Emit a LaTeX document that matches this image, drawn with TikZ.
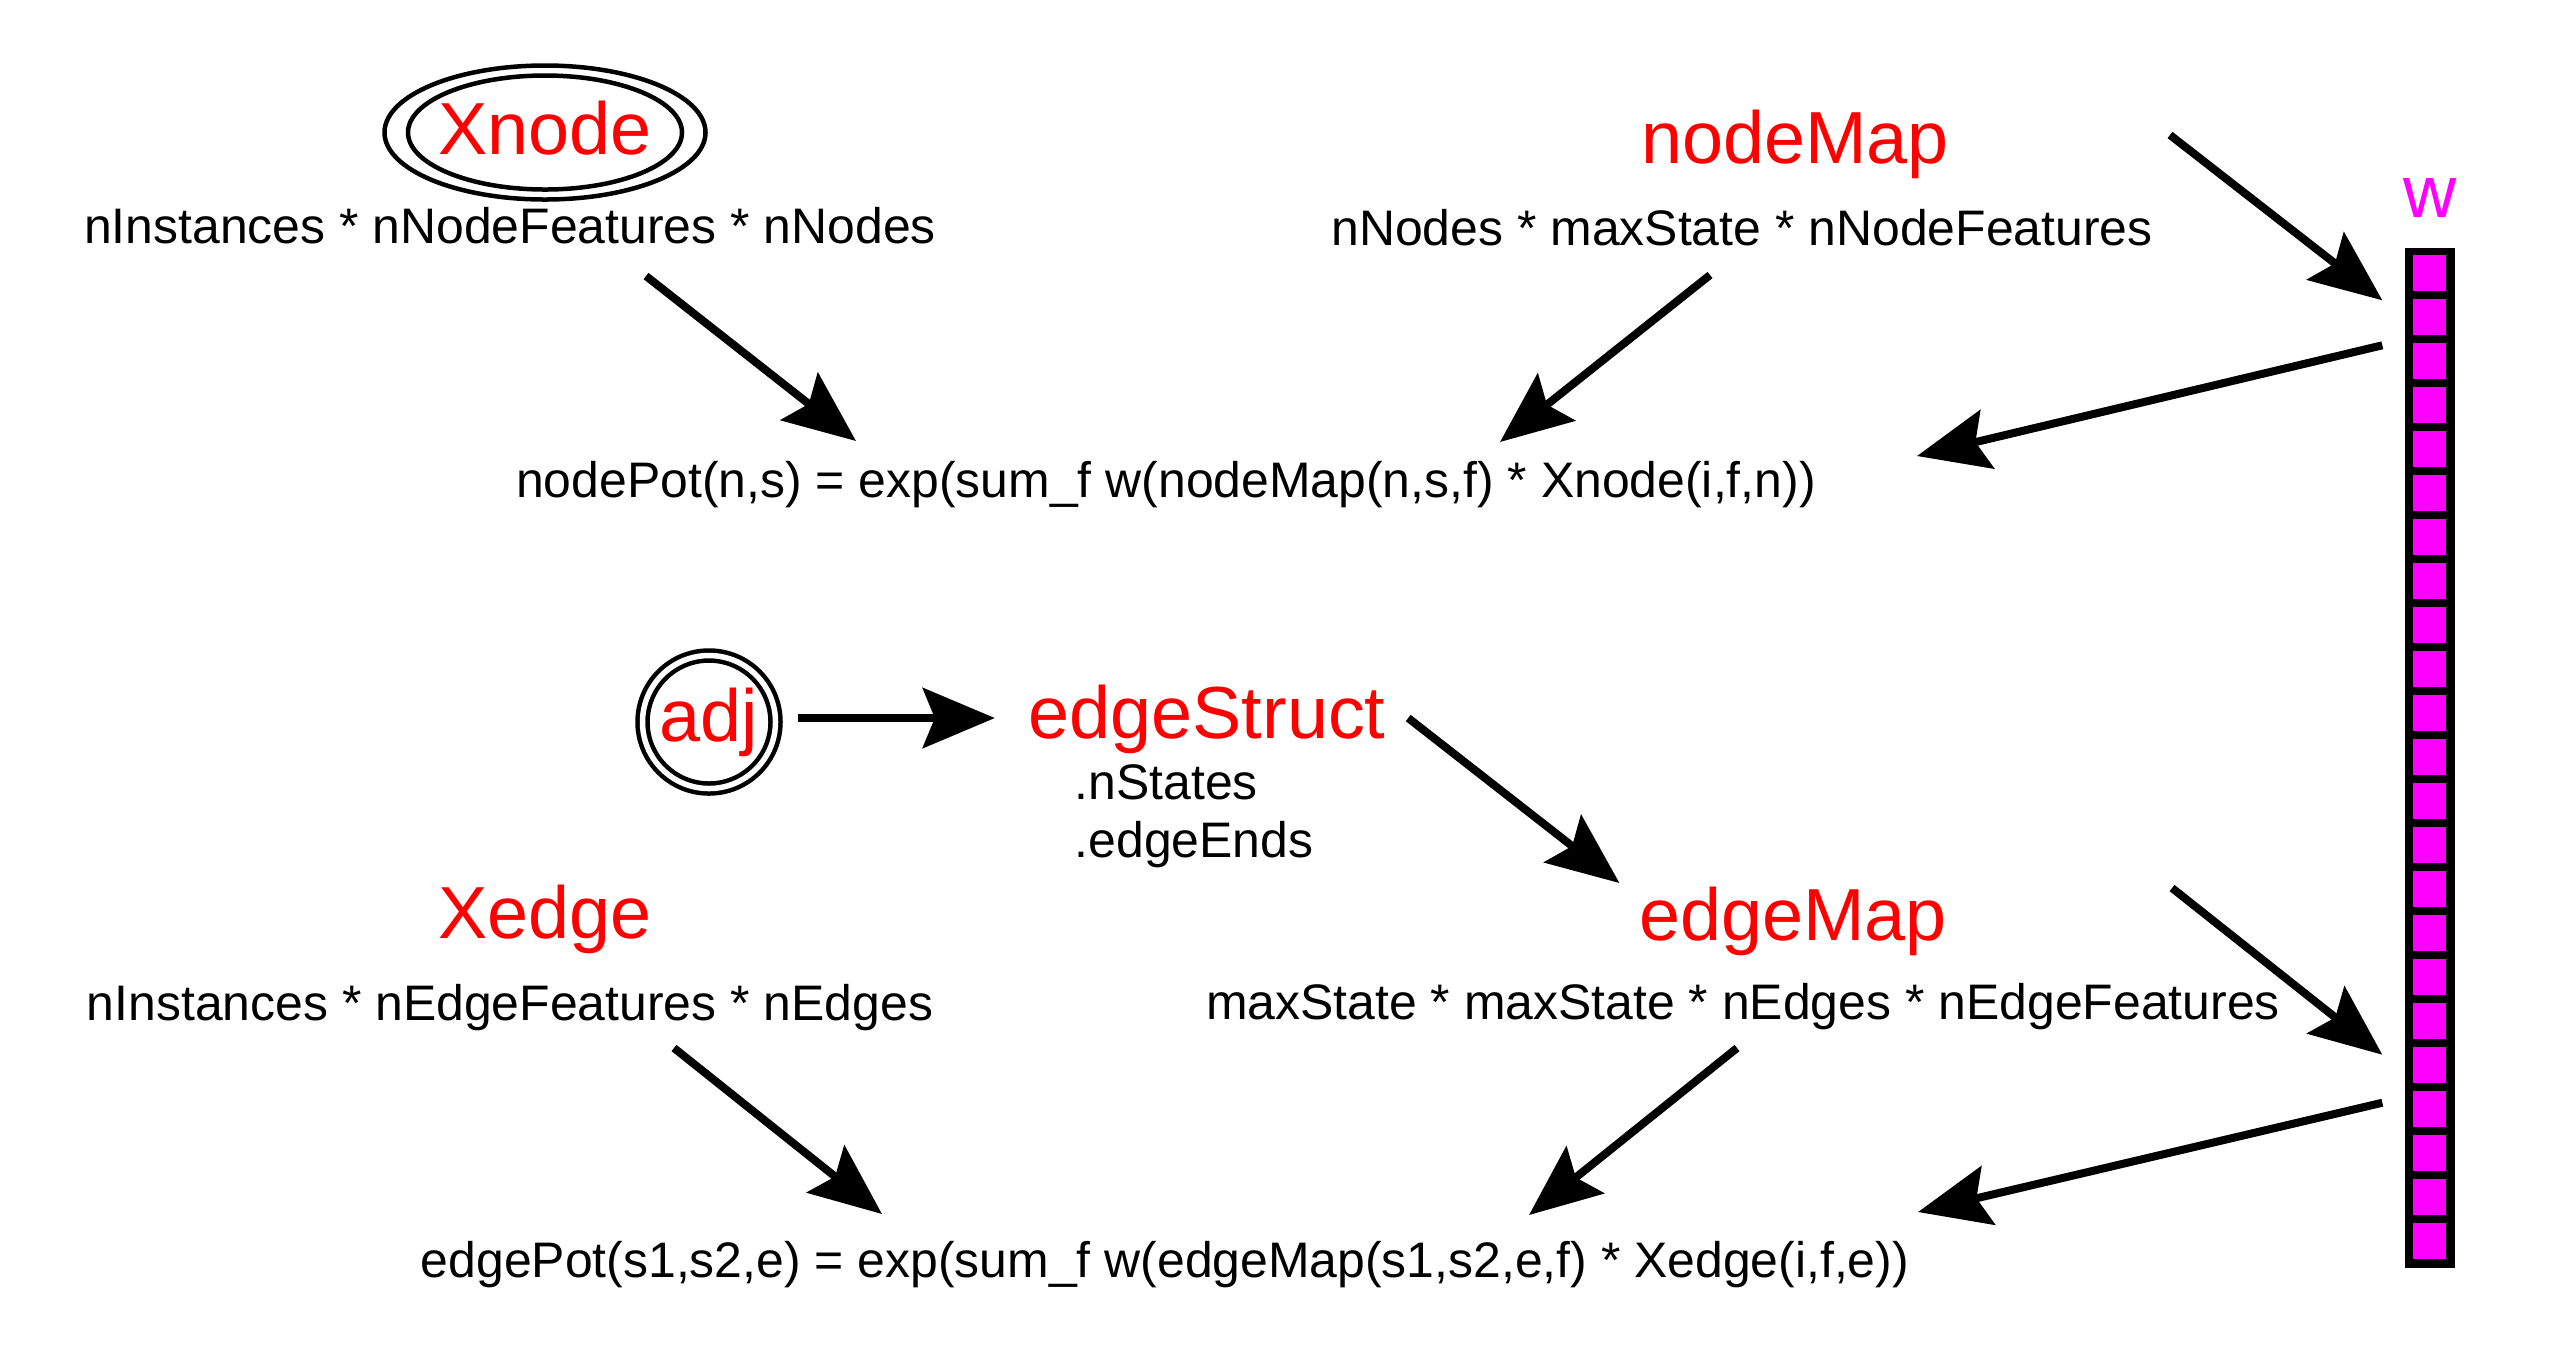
\documentclass[tikz,border=0pt]{standalone}
\usepackage{fontspec}
\setmainfont{Liberation Sans}
\usetikzlibrary{arrows.meta}

\definecolor{mapred}{RGB}{255,0,0}
\definecolor{wpink}{RGB}{255,0,255}

\newcommand*{\cellMax}{22}
\newcommand*{\cellPitch}{0.44}

\begin{document}
\begin{tikzpicture}[
    every node/.style={inner sep=0pt},
    dims/.style={font=\fontsize{14.2}{17}\selectfont, anchor=base},
    title/.style={font=\fontsize{21}{25}\selectfont, text=mapred, anchor=base},
    ring/.style={line width=0.045cm},
    arr/.style={line width=0.08cm, -{Stealth[length=0.72cm,width=0.6cm,inset=0.12cm]}}
]
    \useasboundingbox (0,0) rectangle (25.5,-13.5);

    \node[title] (xnode) at (5.45,-1.54) {Xnode};
    \draw[ring] ([yshift=0.215cm]xnode.base) ellipse (1.37 and 0.57);
    \draw[ring] ([yshift=0.215cm]xnode.base) ellipse (1.605 and 0.67);
    \node[dims] (xnodedim) at (5.10,-2.43) {nInstances * nNodeFeatures * nNodes};

    \node[title] (nodemap) at (17.95,-1.63) {nodeMap};
    \node[dims] (nodemapdim) at (17.42,-2.45) {nNodes * maxState * nNodeFeatures};

    \node[dims] (nodepot) at (11.66,-4.97) {nodePot(n,s) = exp(sum\_f w(nodeMap(n,s,f) * Xnode(i,f,n))};

    \node[circle, draw, ring, double, double distance=0.055cm, minimum size=1.33cm,
          font=\fontsize{21}{25}\selectfont, text=mapred] (adj) at (7.09,-7.22) {adj};
    \node[title] (edgestruct) at (12.07,-7.38) {edgeStruct};
    \node[dims, anchor=base west] (nstates) at (10.74,-7.99) {.nStates};
    \node[dims, anchor=base west] (edgeends) at (10.74,-8.57) {.edgeEnds};

    \node[title] (xedge) at (5.45,-9.38) {Xedge};
    \node[dims] (xedgedim) at (5.10,-10.20) {nInstances * nEdgeFeatures * nEdges};

    \node[title] (edgemap) at (17.93,-9.40) {edgeMap};
    \node[dims] (edgemapdim) at (17.43,-10.19) {maxState * maxState * nEdges * nEdgeFeatures};

    \node[dims] (edgepot) at (11.65,-12.77) {edgePot(s1,s2,e) = exp(sum\_f w(edgeMap(s1,s2,e,f) * Xedge(i,f,e))};

    \node[title, text=wpink] (wlabel) at (24.30,-2.17) {w};
    \node[fill=black, minimum width=0.5cm, minimum height=10.2cm] (wcol) at (24.30,-7.58) {};
    \foreach \i in {0,...,\cellMax} {
        \fill[wpink] ([xshift=0.09cm,yshift={-(0.08+\i*\cellPitch)*1cm}]wcol.north west) rectangle ++(0.33,-0.357);
    }

    \draw[arr] ([xshift=1.36cm,yshift=-0.33cm]xnodedim.base) -- ([xshift=-3.10cm,yshift=0.56cm]nodepot.base);
    \draw[arr] ([xshift=-0.32cm,yshift=-0.30cm]nodemapdim.base) -- ([xshift=3.34cm,yshift=0.55cm]nodepot.base);
    \draw[arr] ([xshift=3.75cm,yshift=0.28cm]nodemap.base) -- ([xshift=-0.22cm,yshift=-0.53cm]wcol.north west);
    \draw[arr] ([xshift=-0.22cm,yshift=-0.98cm]wcol.north west) -- ([xshift=7.51cm,yshift=0.41cm]nodepot.base);

    \draw[arr] ([xshift=0.20cm,yshift=0.04cm]adj.east) -- ([xshift=-0.33cm,yshift=0.20cm]edgestruct.base west);
    \draw[arr] ([xshift=0.22cm,yshift=0.20cm]edgestruct.base east) -- ([xshift=-0.19cm,yshift=0.57cm]edgemap.base west);

    \draw[arr] ([xshift=1.64cm,yshift=-0.28cm]xedgedim.base) -- ([xshift=-2.83cm,yshift=0.63cm]edgepot.base);
    \draw[arr] ([xshift=-0.06cm,yshift=-0.29cm]edgemapdim.base) -- ([xshift=3.64cm,yshift=0.62cm]edgepot.base);
    \draw[arr] ([xshift=3.79cm,yshift=0.52cm]edgemap.base) -- ([xshift=-0.22cm,yshift=2.14cm]wcol.south west);
    \draw[arr] ([xshift=-0.22cm,yshift=1.66cm]wcol.south west) -- ([xshift=7.53cm,yshift=0.65cm]edgepot.base);
\end{tikzpicture}
\end{document}
